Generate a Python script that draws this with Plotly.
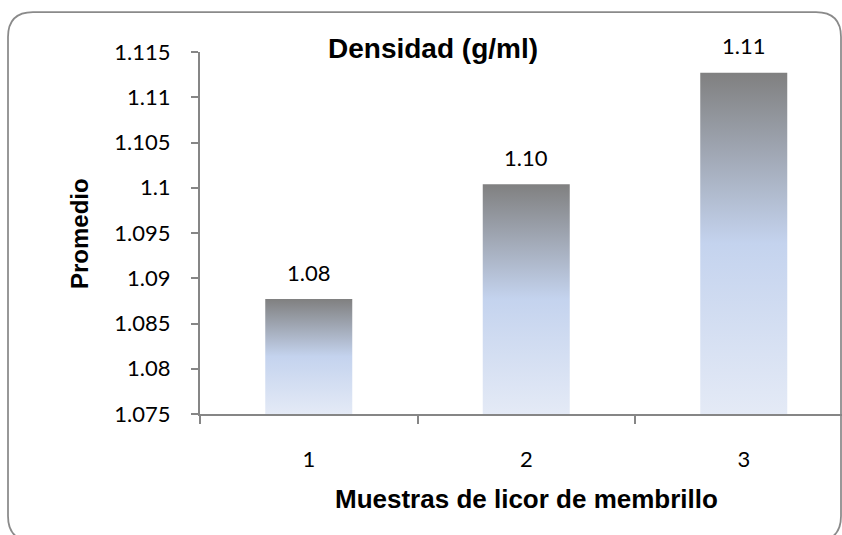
import math
import plotly.graph_objects as go

# Muestras de licor de membrillo: densidad promedio (g/ml)
samples = [1, 2, 3]
sample_labels = ["1", "2", "3"]
density = [1.0877, 1.1004, 1.1127]
y_ticks = [1.075, 1.08, 1.085, 1.09, 1.095, 1.1, 1.105, 1.11, 1.115]
y_tick_labels = ["1.075", "1.08", "1.085", "1.09", "1.095", "1.1", "1.105", "1.11", "1.115"]

W, H = 842, 535
ML, MR, MT, MB = 200, 0, 52, 121
PW, PH = W - ML - MR, H - MT - MB
Y0, Y1 = y_ticks[0], y_ticks[-1]
X0 = samples[0] - 0.5
X1 = X0 + PW / 217.5          # each category slot ~217.5 px wide
HALF = 0.2                     # half bar width in category units

AXIS = "#868686"
GRAD = [[0.0, "#E4EAF6"], [0.5, "#C4D3EE"], [1.0, "#808080"]]

fig = go.Figure()

for s, v in zip(samples, density):
    fig.add_trace(go.Scatter(
        x=[s - HALF, s - HALF, s + HALF, s + HALF, s - HALF],
        y=[Y0, v, v, Y0, Y0],
        mode="lines",
        line=dict(width=0, color="rgba(0,0,0,0)"),
        fill="toself",
        fillgradient=dict(type="vertical", colorscale=GRAD),
        hoverinfo="skip",
        showlegend=False,
    ))

# value labels (two decimals, truncated)
for s, v in zip(samples, density):
    fig.add_annotation(
        x=s, y=v, text=f"{math.floor(v * 100 + 1e-9) / 100:.2f}",
        showarrow=False, yshift=27, yanchor="middle",
        font=dict(family="Lato", size=22, color="#000000"),
    )


def px(x):
    return (x - ML) / PW


def py(y):
    return (H - MB - y) / PH


# chart and axis titles
fig.add_annotation(
    x=px(433), y=py(49), xref="paper", yref="paper", text="<b>Densidad (g/ml)</b>",
    showarrow=False, xanchor="center", yanchor="middle",
    font=dict(family="Liberation Sans", size=28, color="#000000"),
)
fig.add_annotation(
    x=px(526), y=py(499), xref="paper", yref="paper",
    text="<b>Muestras de licor de membrillo</b>",
    showarrow=False, xanchor="center", yanchor="middle",
    font=dict(family="Liberation Sans", size=26, color="#000000"),
)
fig.add_annotation(
    x=px(80), y=py(234), xref="paper", yref="paper", text="<b>Promedio</b>",
    showarrow=False, xanchor="center", yanchor="middle", textangle=-90,
    font=dict(family="Liberation Sans", size=24, color="#000000"),
)

# rounded chart frame
l, t, r, b, rad = 8, 12, 841, 541, 25
path = (
    f"M {px(l + rad)} {py(t)} L {px(r - rad)} {py(t)} "
    f"Q {px(r)} {py(t)} {px(r)} {py(t + rad)} "
    f"L {px(r)} {py(b - rad)} Q {px(r)} {py(b)} {px(r - rad)} {py(b)} "
    f"L {px(l + rad)} {py(b)} Q {px(l)} {py(b)} {px(l)} {py(b - rad)} "
    f"L {px(l)} {py(t + rad)} Q {px(l)} {py(t)} {px(l + rad)} {py(t)} Z"
)
fig.add_shape(type="path", path=path, xref="paper", yref="paper",
              line=dict(color="#8a8a8a", width=1.75), layer="below")

fig.update_xaxes(
    range=[X0, X1], tickmode="array", tickvals=samples, ticktext=sample_labels,
    ticks="", showline=True, linecolor=AXIS, linewidth=2,
    showgrid=False, zeroline=False, ticklabelstandoff=25,
    tickfont=dict(family="Lato", size=22, color="#000000"),
    minor=dict(tickmode="array", tickvals=[s - 0.5 for s in samples],
               ticks="outside", ticklen=8, tickwidth=2, tickcolor=AXIS, showgrid=False),
)
fig.update_yaxes(
    range=[Y0, Y1], tickmode="array", tickvals=y_ticks, ticktext=y_tick_labels,
    ticks="outside", ticklen=7, tickwidth=2, tickcolor=AXIS,
    showline=True, linecolor=AXIS, linewidth=2,
    showgrid=False, zeroline=False, ticklabelstandoff=16,
    tickfont=dict(family="Lato", size=22, color="#000000"),
)

fig.update_layout(
    width=W, height=H,
    margin=dict(l=ML, r=MR, t=MT, b=MB),
    paper_bgcolor="#ffffff", plot_bgcolor="#ffffff",
    showlegend=False,
)

fig.write_html("out.html")
